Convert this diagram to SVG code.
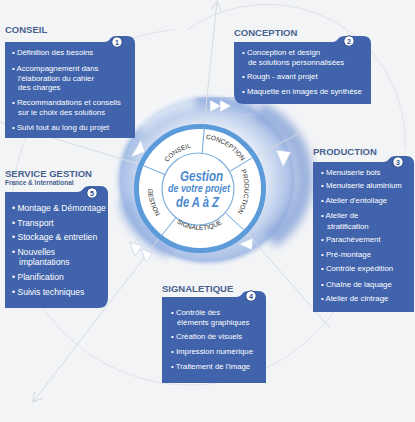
<svg xmlns="http://www.w3.org/2000/svg" width="415" height="422" viewBox="0 0 415 422">
<defs>
<style>
.bg{fill:#f3f4f6}
.faint{fill:none;stroke:#dfe2e7;stroke-width:1}
.ray{fill:none;stroke:#d6dbe2;stroke-width:1}
.box{fill:#4063ac}
.ttl{font-family:"Liberation Sans",Arial,sans-serif;font-weight:bold;font-size:9.5px;fill:#48628f}
.sub{font-family:"Liberation Sans",Arial,sans-serif;font-weight:bold;font-size:6.5px;fill:#48628f}
.it{font-family:"Liberation Sans",Arial,sans-serif;font-size:7.8px;fill:#ffffff}
.it9{font-family:"Liberation Sans",Arial,sans-serif;font-size:8.6px;fill:#ffffff}
.num{fill:#ffffff;stroke:#2d4c8c;stroke-width:1}
.nt{font-family:"Liberation Sans",Arial,sans-serif;font-weight:bold;font-size:7px;fill:#2d4c8c;text-anchor:middle}
.seg{font-family:"Liberation Sans",Arial,sans-serif;font-size:6.5px;fill:#2b2b2b;text-anchor:middle}
.ctr{font-family:"Liberation Sans",Arial,sans-serif;font-style:italic;font-weight:bold;fill:#4b8ad2;text-anchor:middle}
.arw{fill:#ffffff;stroke:#b9cbe9;stroke-width:0.6}
.div{stroke:#6fa3dc;stroke-width:1}
</style>
<radialGradient id="halo" cx="0.5" cy="0.5" r="0.5">
<stop offset="0" stop-color="#ffffff"/>
<stop offset="0.6" stop-color="#e4ebf7"/>
<stop offset="0.8" stop-color="#bccdeb"/>
<stop offset="0.92" stop-color="#a8bfe6"/>
<stop offset="1" stop-color="#f3f4f6" stop-opacity="0"/>
</radialGradient>
<filter id="blur" x="-30%" y="-30%" width="160%" height="160%"><feGaussianBlur stdDeviation="4"/></filter>
<marker id="open" markerWidth="12" markerHeight="12" refX="10" refY="6" orient="auto" markerUnits="userSpaceOnUse">
<path d="M1,1 L10,6 L1,11" fill="none" stroke="#d3d7dd" stroke-width="1"/>
</marker>
<path id="pConseil" d="M160.53,175.18 A41.5,41.5 0 0 1 205.78,146.90"/>
<path id="pConception" d="M193.11,138.98 A49.5,49.5 0 0 1 247.08,172.70"/>
<path id="pProduction" d="M236.45,162.47 A44.5,44.5 0 0 1 231.47,219.47"/>
<path id="pSignal" d="M172.44,219.70 A42,42 0 0 0 226.43,220.64"/>
<path id="pGestion" d="M152.13,167.68 A52,52 0 0 0 171.68,231.61"/>
</defs>

<rect class="bg" x="0" y="0" width="415" height="422"/>

<g id="background-arcs">
<path class="faint" d="M174.5,29.7 A178,178 0 1 0 335.8,309.1"/>
<path class="faint" d="M187,30 A138,138 0 0 1 405,150"/>
</g>

<g id="halo-ring">
<ellipse cx="207" cy="180" rx="94" ry="88" fill="url(#halo)"/>
<path d="M258,110 A82,76 0 0 1 270,240" fill="none" stroke="#86a3d8" stroke-width="18" opacity="0.8" filter="url(#blur)"/>
<path d="M198,102 A82,76 0 0 1 256,110" fill="none" stroke="#94afe0" stroke-width="12" opacity="0.7" filter="url(#blur)"/>
<path d="M170,252 A82,76 0 0 1 124,200" fill="none" stroke="#94afe0" stroke-width="14" opacity="0.65" filter="url(#blur)"/>
<path d="M140,128 A82,76 0 0 1 195,102" fill="none" stroke="#ffffff" stroke-width="12" opacity="0.6" filter="url(#blur)"/>
</g>

<g id="connectors">
<line class="ray" x1="204" y1="126" x2="217" y2="1" marker-end="url(#open)"/>
<line class="ray" x1="252" y1="158" x2="302" y2="132"/>
<line class="ray" x1="245" y1="231" x2="330" y2="328"/>
<line class="ray" x1="160" y1="237" x2="33" y2="402" marker-end="url(#open)"/>
<line class="ray" x1="142" y1="165" x2="0" y2="122"/>
</g>

<g id="arrows">
<path class="arw" d="M210,100 L210,112 L221,106 Z"/>
<path class="arw" d="M220,100 L220,112 L231,106 Z"/>
<path class="arw" d="M276,150 L291,152 L283,167 Z"/>
<path class="arw" d="M239,244 L253,238 L252,250 Z"/>
<path class="arw" d="M130,242 L142,246 L135,256 Z"/>
<path class="arw" d="M141,249 L152,253 L146,262 Z"/>
<path class="arw" d="M131,157 L145,152 L141,140 Z"/>
</g>

<g id="center">
<ellipse cx="200" cy="188.5" rx="63.5" ry="62" fill="#ffffff" stroke="#5c9bd9" stroke-width="5"/>
<circle cx="198" cy="189" r="36" fill="#ffffff" stroke="#7fb0e0" stroke-width="1.2"/>
<line class="div" x1="202.1" y1="153.1" x2="204.5" y2="126"/>
<line class="div" x1="230.2" y1="171" x2="252" y2="158"/>
<line class="div" x1="225.7" y1="213.1" x2="245" y2="231"/>
<line class="div" x1="176.3" y1="217" x2="160.5" y2="237"/>
<line class="div" x1="165.9" y1="174.9" x2="142" y2="165"/>
<text class="seg"><textPath href="#pConseil" startOffset="50%">CONSEIL</textPath></text>
<text class="seg"><textPath href="#pConception" startOffset="50%">CONCEPTION</textPath></text>
<text class="seg"><textPath href="#pProduction" startOffset="50%">PRODUCTION</textPath></text>
<text class="seg"><textPath href="#pSignal" startOffset="50%">SIGNALETIQUE</textPath></text>
<text class="seg"><textPath href="#pGestion" startOffset="50%">GESTION</textPath></text>
<text class="ctr" x="201.5" y="181" font-size="15" textLength="43" lengthAdjust="spacingAndGlyphs">Gestion</text>
<text class="ctr" x="199" y="192" font-size="10" font-weight="normal" textLength="62" lengthAdjust="spacingAndGlyphs">de votre projet</text>
<text class="ctr" x="197.5" y="207" font-size="15" textLength="43" lengthAdjust="spacingAndGlyphs">de A à Z</text>
</g>

<g id="conseil">
<text class="ttl" x="5" y="33">CONSEIL</text>
<path class="box" d="M5,42 H104 Q108,42 110,39 Q112,36 117,36 H127 Q135,36 135,44 V138 H5 Z"/>
<circle class="num" cx="117" cy="42" r="5.2"/>
<text class="nt" x="117" y="44.5">1</text>
<text class="it" x="12" y="55">• Définition des besoins</text>
<text class="it" x="12" y="70.5">• Accompagnement dans</text>
<text class="it" x="18" y="80.5">l'élaboration du cahier</text>
<text class="it" x="18" y="90">des charges</text>
<text class="it" x="12" y="104.5">• Recommandations et conseils</text>
<text class="it" x="18" y="114.5">sur le choix des solutions</text>
<text class="it" x="12" y="129.5">• Suivi tout au long du projet</text>
</g>

<g id="conception">
<text class="ttl" x="234" y="35.5">CONCEPTION</text>
<path class="box" d="M234,42 H332 Q336,42 338,39 Q340,36 345,36 H363 Q371,36 371,44 V104 H244 Q234,104 234,94 Z"/>
<circle class="num" cx="349" cy="41" r="5.2"/>
<text class="nt" x="349" y="43.5">2</text>
<text class="it" x="242" y="55">• Conception et design</text>
<text class="it" x="248" y="65">de solutions personnalisées</text>
<text class="it" x="242" y="79">• Rough - avant projet</text>
<text class="it" x="242" y="94">• Maquette en images de synthèse</text>
</g>

<g id="production">
<text class="ttl" x="313" y="154.5">PRODUCTION</text>
<path class="box" d="M313,162 H383 Q387,162 389,159 Q391,156 396,156 H406 Q414,156 414,164 V312 H313 Z"/>
<circle class="num" cx="398" cy="162" r="5.2"/>
<text class="nt" x="398" y="164.5">3</text>
<text class="it" x="321" y="174.5">• Menuiserie bois</text>
<text class="it" x="321" y="188">• Menuiserie aluminium</text>
<text class="it" x="321" y="203">• Atelier d'entoilage</text>
<text class="it" x="321" y="218">• Atelier de</text>
<text class="it" x="327" y="228.5">stratification</text>
<text class="it" x="321" y="242">• Parachèvement</text>
<text class="it" x="321" y="257">• Pré-montage</text>
<text class="it" x="321" y="271">• Contrôle expédition</text>
<text class="it" x="321" y="287">• Chaîne de laquage</text>
<text class="it" x="321" y="301">• Atelier de cintrage</text>
</g>

<g id="service-gestion">
<text class="ttl" x="5" y="177">SERVICE GESTION</text>
<text class="sub" x="5" y="184.5">France &amp; International</text>
<path class="box" d="M5,192 H77 Q81,192 83,189 Q85,186 90,186 H100 Q108,186 108,194 V298 Q108,308 98,308 H5 Z"/>
<circle class="num" cx="92" cy="193" r="5.2"/>
<text class="nt" x="92" y="195.5">5</text>
<text class="it9" x="12" y="211">• Montage &amp; Démontage</text>
<text class="it9" x="12" y="225.5">• Transport</text>
<text class="it9" x="12" y="240">• Stockage &amp; entretien</text>
<text class="it9" x="12" y="254.5">• Nouvelles</text>
<text class="it9" x="19" y="264.5">implantations</text>
<text class="it9" x="12" y="279.5">• Planification</text>
<text class="it9" x="12" y="294.5">• Suivis techniques</text>
</g>

<g id="signaletique">
<text class="ttl" x="162" y="292">SIGNALETIQUE</text>
<path class="box" d="M162,297 H236 Q240,297 242,294 Q244,291 249,291 H258 Q266,291 266,299 V383 H162 Z"/>
<circle class="num" cx="251" cy="296" r="5.2"/>
<text class="nt" x="251" y="298.5">4</text>
<text class="it" x="171" y="315">• Contrôle des</text>
<text class="it" x="177" y="324.5">éléments graphiques</text>
<text class="it" x="171" y="339">• Création de visuels</text>
<text class="it" x="171" y="353.5">• Impression numérique</text>
<text class="it" x="171" y="368.5">• Traitement de l'image</text>
</g>
</svg>
